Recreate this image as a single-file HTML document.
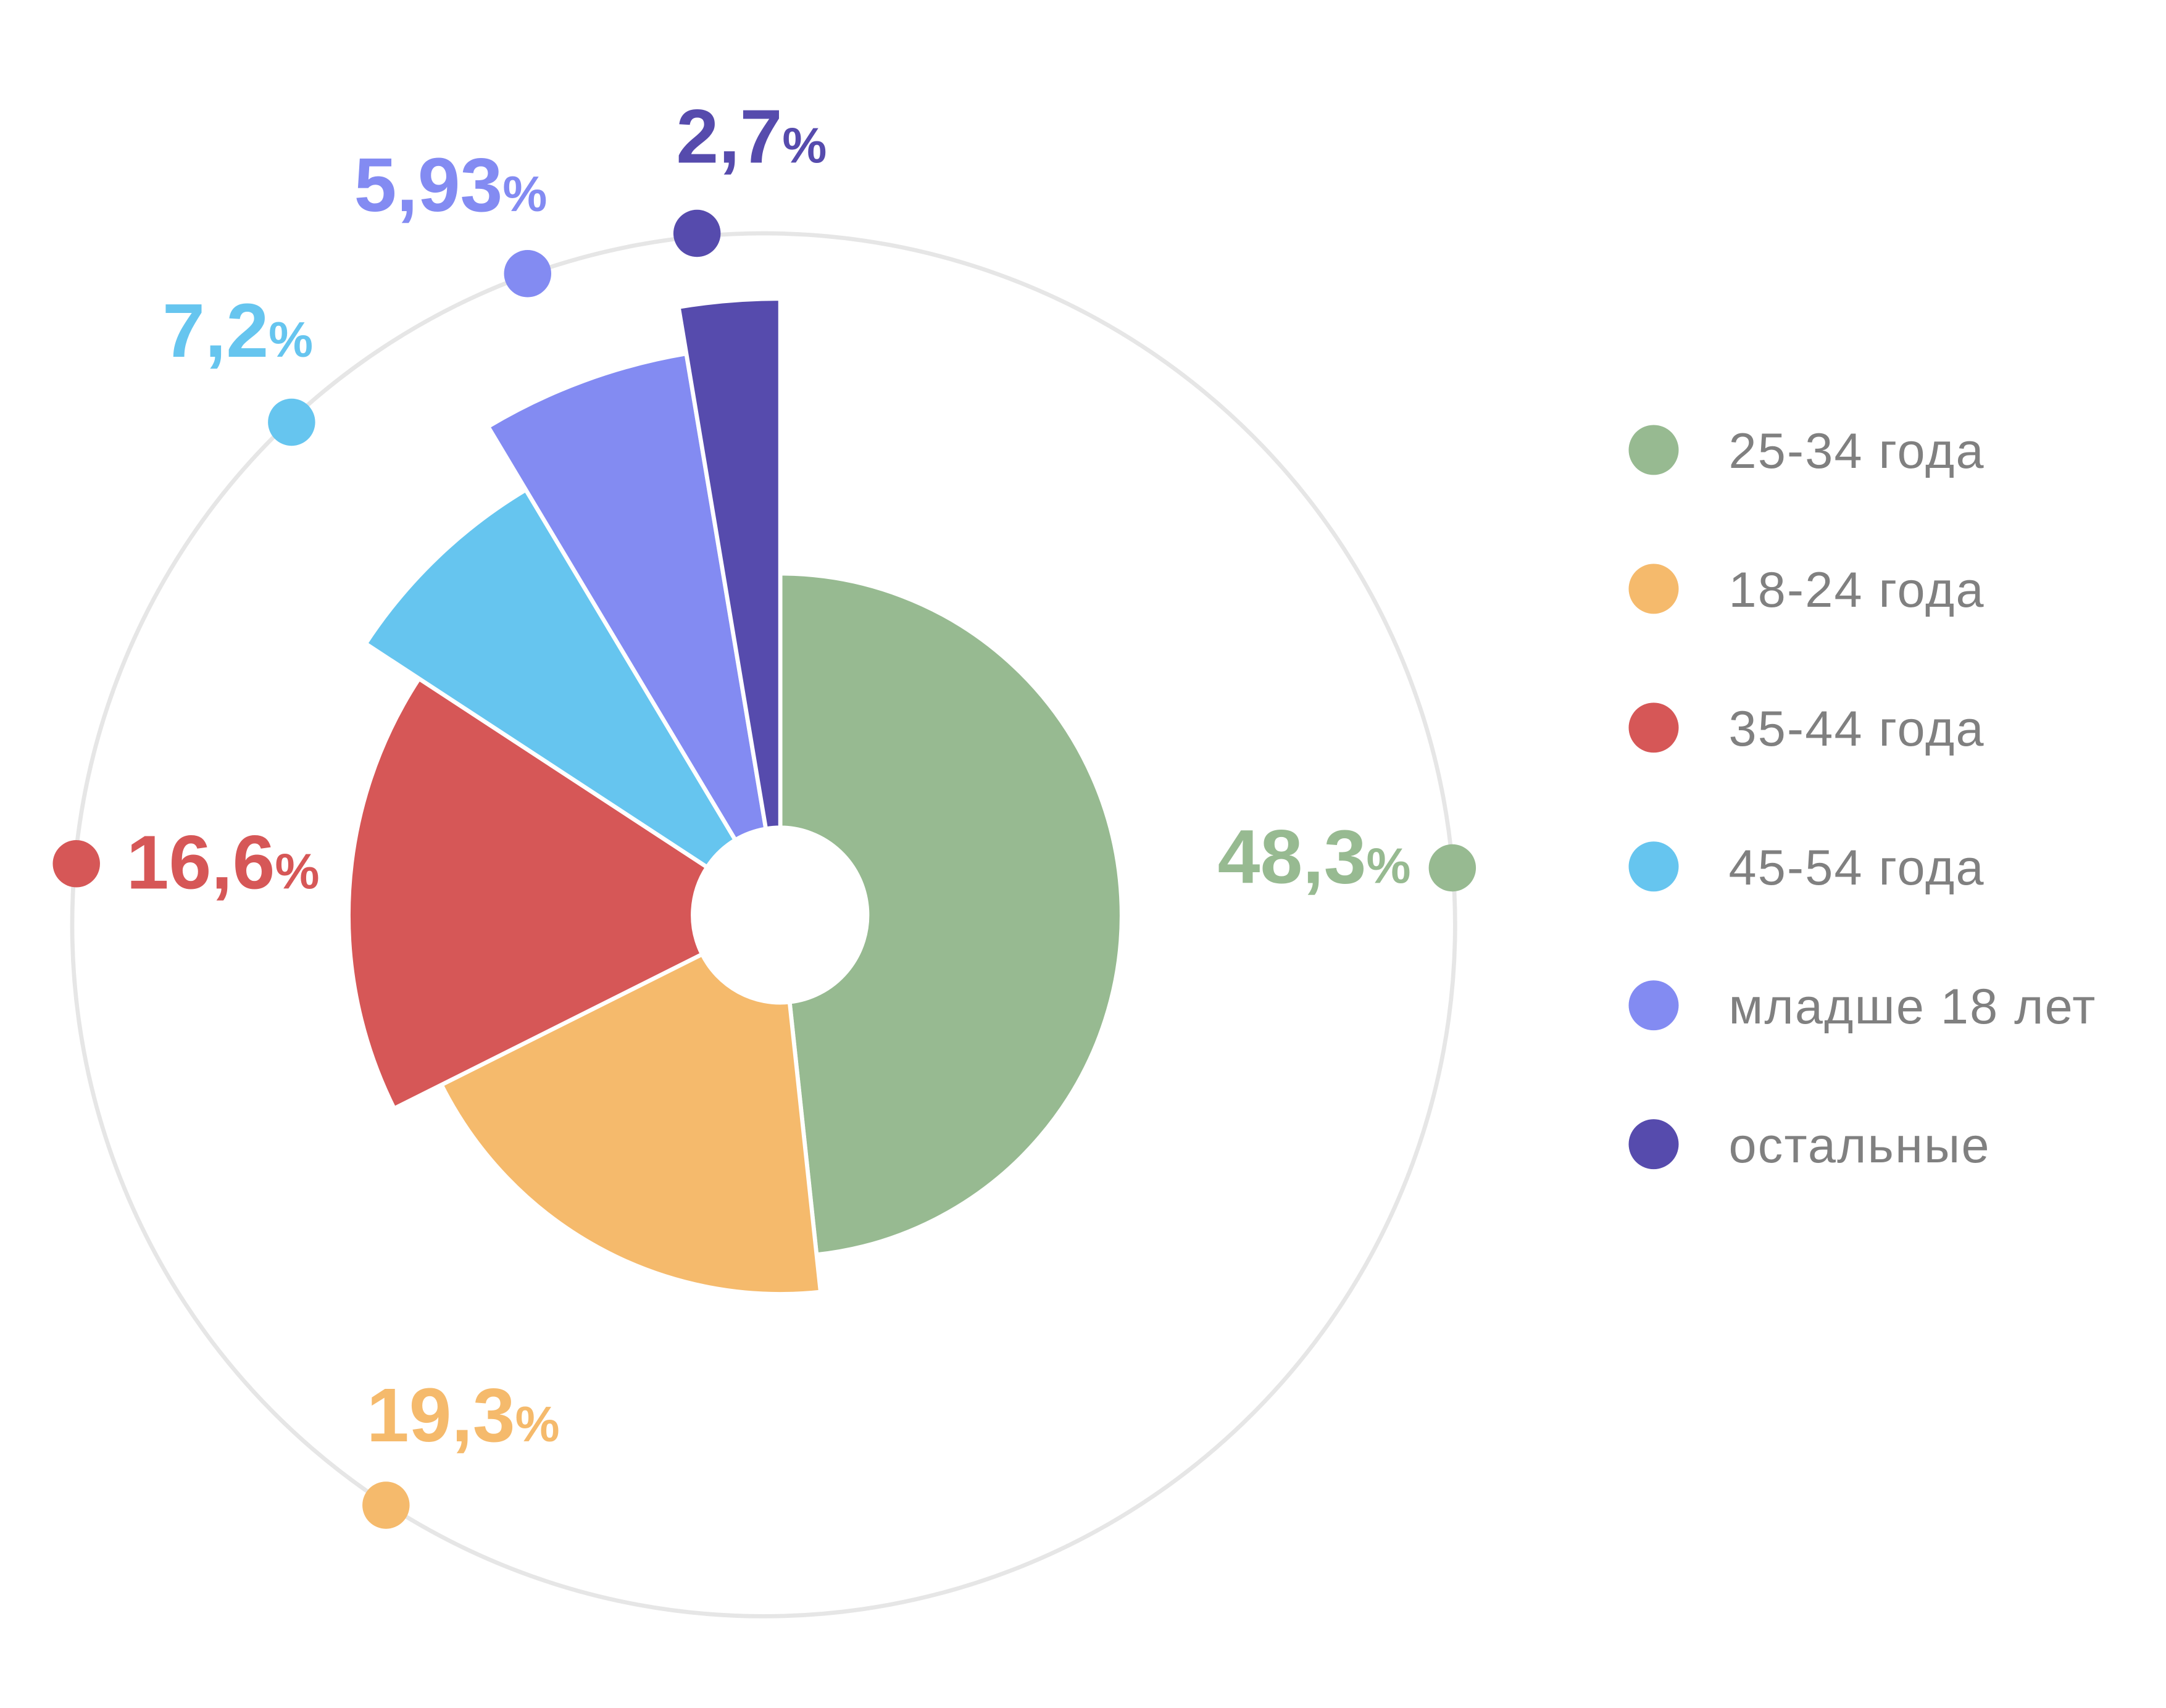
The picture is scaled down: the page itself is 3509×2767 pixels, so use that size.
<!DOCTYPE html>
<html><head><meta charset="utf-8"><style>
html,body{margin:0;padding:0;background:#fff;}
svg{display:block;}
text{font-family:"Liberation Sans Narrow","Liberation Sans",sans-serif;}
</style></head><body>
<svg width="3509" height="2767" viewBox="0 0 1560 1230" xmlns="http://www.w3.org/2000/svg">
<g transform="translate(-2,-2)">
<circle cx="552" cy="668" r="498" fill="none" stroke="#e6e6e6" stroke-width="3"/>
<g stroke="#fff" stroke-width="3" stroke-linejoin="miter">
<path d="M564,415 A246,246 0 0 1 590.1,905.6 L570.7,723.6 A63,63 0 0 0 564,598 Z" fill="#97BA91"/>
<path d="M593,932.4 A273,273 0 0 1 319.9,783.2 L507.7,689.2 A63,63 0 0 0 570.7,723.6 Z" fill="#F5BA6C"/>
<path d="M285.9,800.3 A311,311 0 0 1 303.8,490.7 L511.3,626.5 A63,63 0 0 0 507.7,689.2 Z" fill="#D65757"/>
<path d="M265.3,465.5 A357,357 0 0 1 380.7,354.7 L531.6,606.9 A63,63 0 0 0 511.3,626.5 Z" fill="#66C5EF"/>
<path d="M353.5,309.2 A410,410 0 0 1 496.3,256.6 L553.6,598.9 A63,63 0 0 0 531.6,606.9 Z" fill="#838BF2"/>
<path d="M490.7,223.1 A444,444 0 0 1 564,217 L564,598 A63,63 0 0 0 553.6,598.9 Z" fill="#564BAD"/>
</g>
<circle cx="1048" cy="627" r="17" fill="#97BA91"/>
<circle cx="280" cy="1086" r="17" fill="#F5BA6C"/>
<circle cx="57" cy="624" r="17" fill="#D65757"/>
<circle cx="212" cy="306" r="17" fill="#66C5EF"/>
<circle cx="382" cy="199" r="17" fill="#838BF2"/>
<circle cx="504" cy="170" r="17" fill="#564BAD"/>
<g font-weight="bold" font-size="55">
<text x="879" y="638" fill="#97BA91">48,3<tspan font-size="36">%</tspan></text>
<text x="93" y="642" fill="#D65757">16,6<tspan font-size="36">%</tspan></text>
<text x="266" y="1040" fill="#F5BA6C">19,3<tspan font-size="36">%</tspan></text>
<text x="119" y="259" fill="#66C5EF">7,2<tspan font-size="36">%</tspan></text>
<text x="257" y="154" fill="#838BF2">5,93<tspan font-size="36">%</tspan></text>
<text x="489" y="119" fill="#564BAD">2,7<tspan font-size="36">%</tspan></text>
</g>
<g font-size="36" fill="#808080" letter-spacing="1">
<circle cx="1193" cy="326" r="18" fill="#97BA91"/><text x="1247" y="339">25-34 года</text>
<circle cx="1193" cy="426" r="18" fill="#F5BA6C"/><text x="1247" y="439">18-24 года</text>
<circle cx="1193" cy="526" r="18" fill="#D65757"/><text x="1247" y="539">35-44 года</text>
<circle cx="1193" cy="626" r="18" fill="#66C5EF"/><text x="1247" y="639">45-54 года</text>
<circle cx="1193" cy="726" r="18" fill="#838BF2"/><text x="1247" y="739">младше 18 лет</text>
<circle cx="1193" cy="826" r="18" fill="#564BAD"/><text x="1247" y="839">остальные</text>
</g>
</g>
</svg>
</body></html>
